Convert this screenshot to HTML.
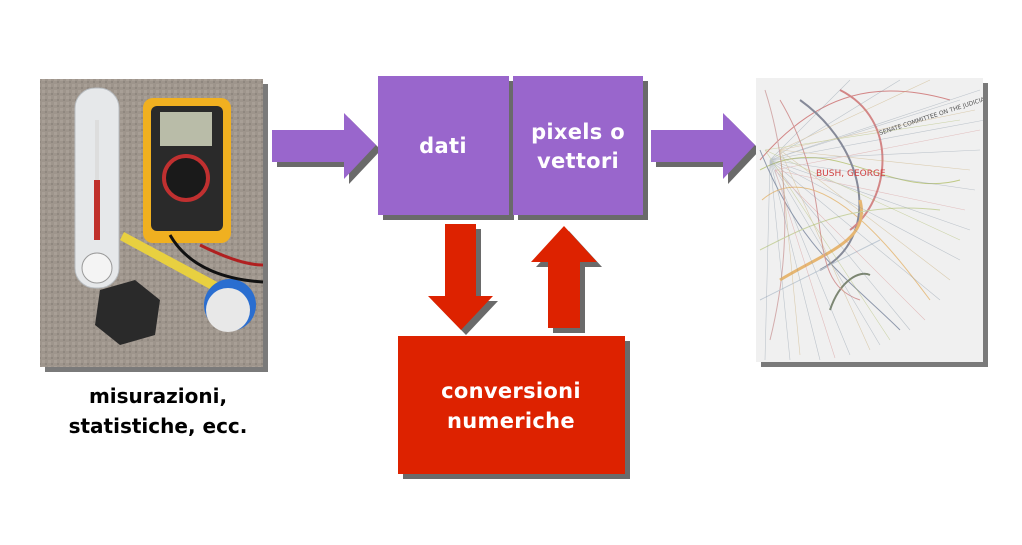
<!DOCTYPE html>
<html><head><meta charset="utf-8"><style>
body{margin:0;width:1022px;height:540px;background:#fff;overflow:hidden}
text{font-family:"DejaVu Sans","Liberation Sans",sans-serif}
</style></head><body>
<svg width="1022" height="540" viewBox="0 0 1022 540" xmlns="http://www.w3.org/2000/svg">
<defs>
<pattern id="carpet" width="6" height="6" patternUnits="userSpaceOnUse">
<rect width="6" height="6" fill="#9e958c"/><rect x="0" y="0" width="3" height="3" fill="#a89f96"/><rect x="3" y="3" width="2" height="2" fill="#8f877f"/>
</pattern>
<clipPath id="rc"><rect x="756" y="78" width="227" height="284"/></clipPath>
</defs>
<rect x="45" y="84" width="223" height="288" fill="#7a7a7a"/>
<rect x="40" y="79" width="223" height="288" fill="url(#carpet)"/>
<rect x="75" y="88" width="44" height="200" rx="20" fill="#e6e8ea" stroke="#b8bcc0"/>
<rect x="95" y="120" width="4" height="120" fill="#ddd"/>
<rect x="94" y="180" width="6" height="60" fill="#c0302a"/>
<circle cx="97" cy="268" r="15" fill="#f4f4f4" stroke="#999"/>
<rect x="143" y="98" width="88" height="145" rx="10" fill="#f0b020"/>
<rect x="151" y="106" width="72" height="125" rx="6" fill="#2a2a2a"/>
<rect x="160" y="112" width="52" height="34" fill="#b9bca8"/>
<circle cx="186" cy="178" r="22" fill="#1a1a1a" stroke="#c03030" stroke-width="4"/>
<path d="M120 240 L230 300 L236 292 L124 232Z" fill="#e8d040"/>
<circle cx="230" cy="305" r="26" fill="#2a6ed0"/><circle cx="228" cy="310" r="22" fill="#e8e8e8"/>
<polygon points="100,290 135,280 160,300 155,335 120,345 95,325" fill="#2a2a2a"/>
<path d="M200 245 C230 260 250 265 263 265" stroke="#b02020" stroke-width="3" fill="none"/>
<path d="M170 235 C190 270 230 280 263 282" stroke="#111" stroke-width="3" fill="none"/>
<text x="158" y="403" text-anchor="middle" font-size="20" font-weight="bold" fill="#000">misurazioni,</text>
<text x="158" y="433" text-anchor="middle" font-size="20" font-weight="bold" fill="#000">statistiche, ecc.</text>
<polygon points="277,135 349,135 349,118 381,150 349,184 349,167 277,167" fill="#6a6a6a"/>
<polygon points="272,130 344,130 344,113 376,145 344,179 344,162 272,162" fill="#9966cc"/>
<rect x="383" y="81" width="131" height="139" fill="#6a6a6a"/>
<rect x="518" y="81" width="130" height="139" fill="#6a6a6a"/>
<rect x="378" y="76" width="131" height="139" fill="#9966cc"/>
<rect x="513" y="76" width="130" height="139" fill="#9966cc"/>
<text x="443" y="153" text-anchor="middle" font-size="21" font-weight="bold" letter-spacing="0.3" fill="#fff">dati</text>
<text x="578" y="139" text-anchor="middle" font-size="21" font-weight="bold" letter-spacing="0.3" fill="#fff">pixels o</text>
<text x="578" y="168" text-anchor="middle" font-size="21" font-weight="bold" letter-spacing="0.3" fill="#fff">vettori</text>
<polygon points="656,135 728,135 728,118 760,150 728,184 728,167 656,167" fill="#6a6a6a"/>
<polygon points="651,130 723,130 723,113 755,145 723,179 723,162 651,162" fill="#9966cc"/>
<polygon points="450,229 481,229 481,301 498,301 466,335 433,301 450,301" fill="#6a6a6a"/>
<polygon points="445,224 476,224 476,296 493,296 461,330 428,296 445,296" fill="#dd2200"/>
<polygon points="553,333 585,333 585,267 602,267 569,231 536,267 553,267" fill="#6a6a6a"/>
<polygon points="548,328 580,328 580,262 597,262 564,226 531,262 548,262" fill="#dd2200"/>
<rect x="403" y="341" width="227" height="138" fill="#6a6a6a"/>
<rect x="398" y="336" width="227" height="138" fill="#dd2200"/>
<text x="511" y="398" text-anchor="middle" font-size="21" font-weight="bold" letter-spacing="0.3" fill="#fff">conversioni</text>
<text x="511" y="428" text-anchor="middle" font-size="21" font-weight="bold" letter-spacing="0.3" fill="#fff">numeriche</text>
<rect x="761" y="83" width="227" height="284" fill="#7a7a7a"/>
<rect x="756" y="78" width="227" height="284" fill="#f0f0f0"/>
<g clip-path="url(#rc)">
<g fill="none" stroke-width="1" opacity="0.6">
<path d="M760 160 C820 90 880 80 950 100" stroke="#c04040"/>
<path d="M760 170 C830 130 890 200 960 180" stroke="#a0b040"/>
<path d="M760 150 C800 250 850 280 900 330" stroke="#506080"/>
<path d="M762 200 C820 150 900 260 930 300" stroke="#e0a040"/>
<path d="M765 90 C800 200 780 300 770 340" stroke="#c08080"/>
<path d="M800 100 C870 150 880 240 820 270" stroke="#404860" stroke-width="2"/>
<path d="M840 90 C900 120 890 200 850 230" stroke="#c04040" stroke-width="2"/>
<path d="M780 280 C830 250 870 240 860 200" stroke="#e09020" stroke-width="3"/>
<path d="M830 310 C840 280 860 270 870 275" stroke="#304020" stroke-width="2"/>
<path d="M760 300 L880 240" stroke="#a0b0c0"/>
<path d="M780 100 C840 200 800 280 860 300" stroke="#c06060"/>
<path d="M760 250 C800 230 850 200 940 210" stroke="#b0c070"/>
</g>
<g stroke-width="0.6" opacity="0.45">
<path d="M770 160 L980 90 M770 160 L985 120 M770 160 L980 150 M770 160 L975 190 M770 160 L970 230 M770 160 L960 260 M770 160 L940 300 M770 160 L910 330 M770 160 L880 345 M770 160 L850 355 M770 160 L820 360 M770 160 L790 360 M770 160 L765 360 M770 160 L960 100 M770 160 L900 80 M770 160 L850 80" stroke="#8090a0"/>
<path d="M780 150 L975 110 M780 150 L970 170 M780 150 L950 280 M780 150 L870 350 M780 150 L800 355 M780 150 L930 80" stroke="#c0a060"/>
<path d="M775 170 L980 130 M775 170 L965 210 M775 170 L925 320 M775 170 L835 358" stroke="#d08080"/>
<path d="M765 150 L960 240 M765 150 L890 340 M765 150 L960 120" stroke="#a0b050"/>
</g>
<text x="880" y="135" font-size="6" fill="#555" transform="rotate(-18 880 135)" font-family="Liberation Sans">SENATE COMMITTEE ON THE JUDICIARY</text>
</g>
<text x="816" y="176" font-size="9" fill="#d04040" font-family="Liberation Sans">BUSH, GEORGE</text>
</svg>
</body></html>
